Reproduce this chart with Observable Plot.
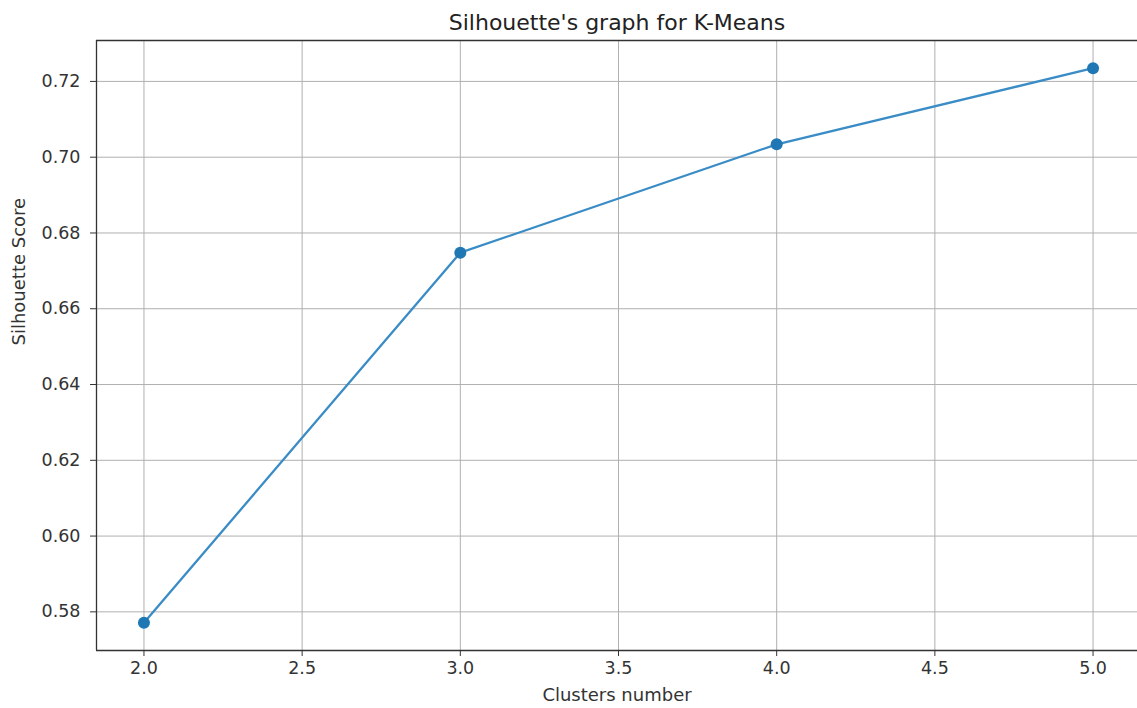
<!DOCTYPE html>
<html>
<head>
<meta charset="utf-8">
<script src="https://cdn.jsdelivr.net/npm/d3@7"></script>
<script src="https://cdn.jsdelivr.net/npm/@observablehq/plot@0.6"></script>
<style>
  html, body { margin: 0; padding: 0; background: #fff; overflow: hidden; }
  #chart { width: 1137px; height: 708px; overflow: hidden; }
  #chart svg { max-width: none !important; }
</style>
</head>
<body>
<div id="chart"></div>
<script>
const clusters = [2, 3, 4, 5];
const scores = [0.5771, 0.6748, 0.7034, 0.7235];
const xTicks = [2.0, 2.5, 3.0, 3.5, 4.0, 4.5, 5.0];
const yTicks = [0.58, 0.60, 0.62, 0.64, 0.66, 0.68, 0.70, 0.72];
const xDomain = [1.85, 5.1405];
const yDomain = [0.5698, 0.7308];
const titleText = "Silhouette's graph for K-Means";
const xLabel = "Clusters number";
const yLabel = "Silhouette Score";

const data = clusters.map((c, i) => ({k: c, s: scores[i]}));
const font = "DejaVu Sans, sans-serif";

const chart = Plot.plot({
  width: 1137,
  height: 708,
  marginTop: 40,
  marginBottom: 58,
  marginLeft: 96,
  marginRight: 0,
  style: {fontFamily: font, background: "#fff", color: "#333", maxWidth: "none"},
  x: {domain: xDomain, ticks: xTicks},
  y: {domain: yDomain, ticks: yTicks},
  marks: [
    Plot.gridX(xTicks, {stroke: "#b0b0b0", strokeOpacity: 1, strokeWidth: 1}),
    Plot.gridY(yTicks, {stroke: "#b0b0b0", strokeOpacity: 1, strokeWidth: 1}),
    Plot.axisX(xTicks, {tickSize: 6, tickPadding: 5, fontSize: 17.5, tickFormat: d3.format(".1f"), label: null, stroke: "#333", fill: "#333"}),
    Plot.axisY(yTicks, {tickSize: 6, tickPadding: 10, fontSize: 17.5, tickFormat: d3.format(".2f"), label: null, stroke: "#333", fill: "#333"}),
    Plot.ruleY(yDomain, {stroke: "#333", strokeWidth: 1.3}),
    Plot.ruleX([xDomain[0]], {stroke: "#333", strokeWidth: 1.3}),
    Plot.line(data, {x: "k", y: "s", stroke: "#3a8cc6", strokeWidth: 2.3}),
    Plot.dot(data, {x: "k", y: "s", r: 6, fill: "#1f77b4", stroke: "none"}),
    Plot.text([titleText], {frameAnchor: "top", dy: -18, text: d => d, fontSize: 22, fill: "#222", lineAnchor: "middle"}),
    Plot.text([xLabel], {frameAnchor: "bottom", dy: 45, text: d => d, fontSize: 18, fill: "#333", lineAnchor: "middle"}),
    Plot.text([yLabel], {frameAnchor: "left", dx: -77, rotate: -90, text: d => d, fontSize: 18, fill: "#333", lineAnchor: "middle"})
  ]
});
document.getElementById("chart").appendChild(chart);
</script>
</body>
</html>
